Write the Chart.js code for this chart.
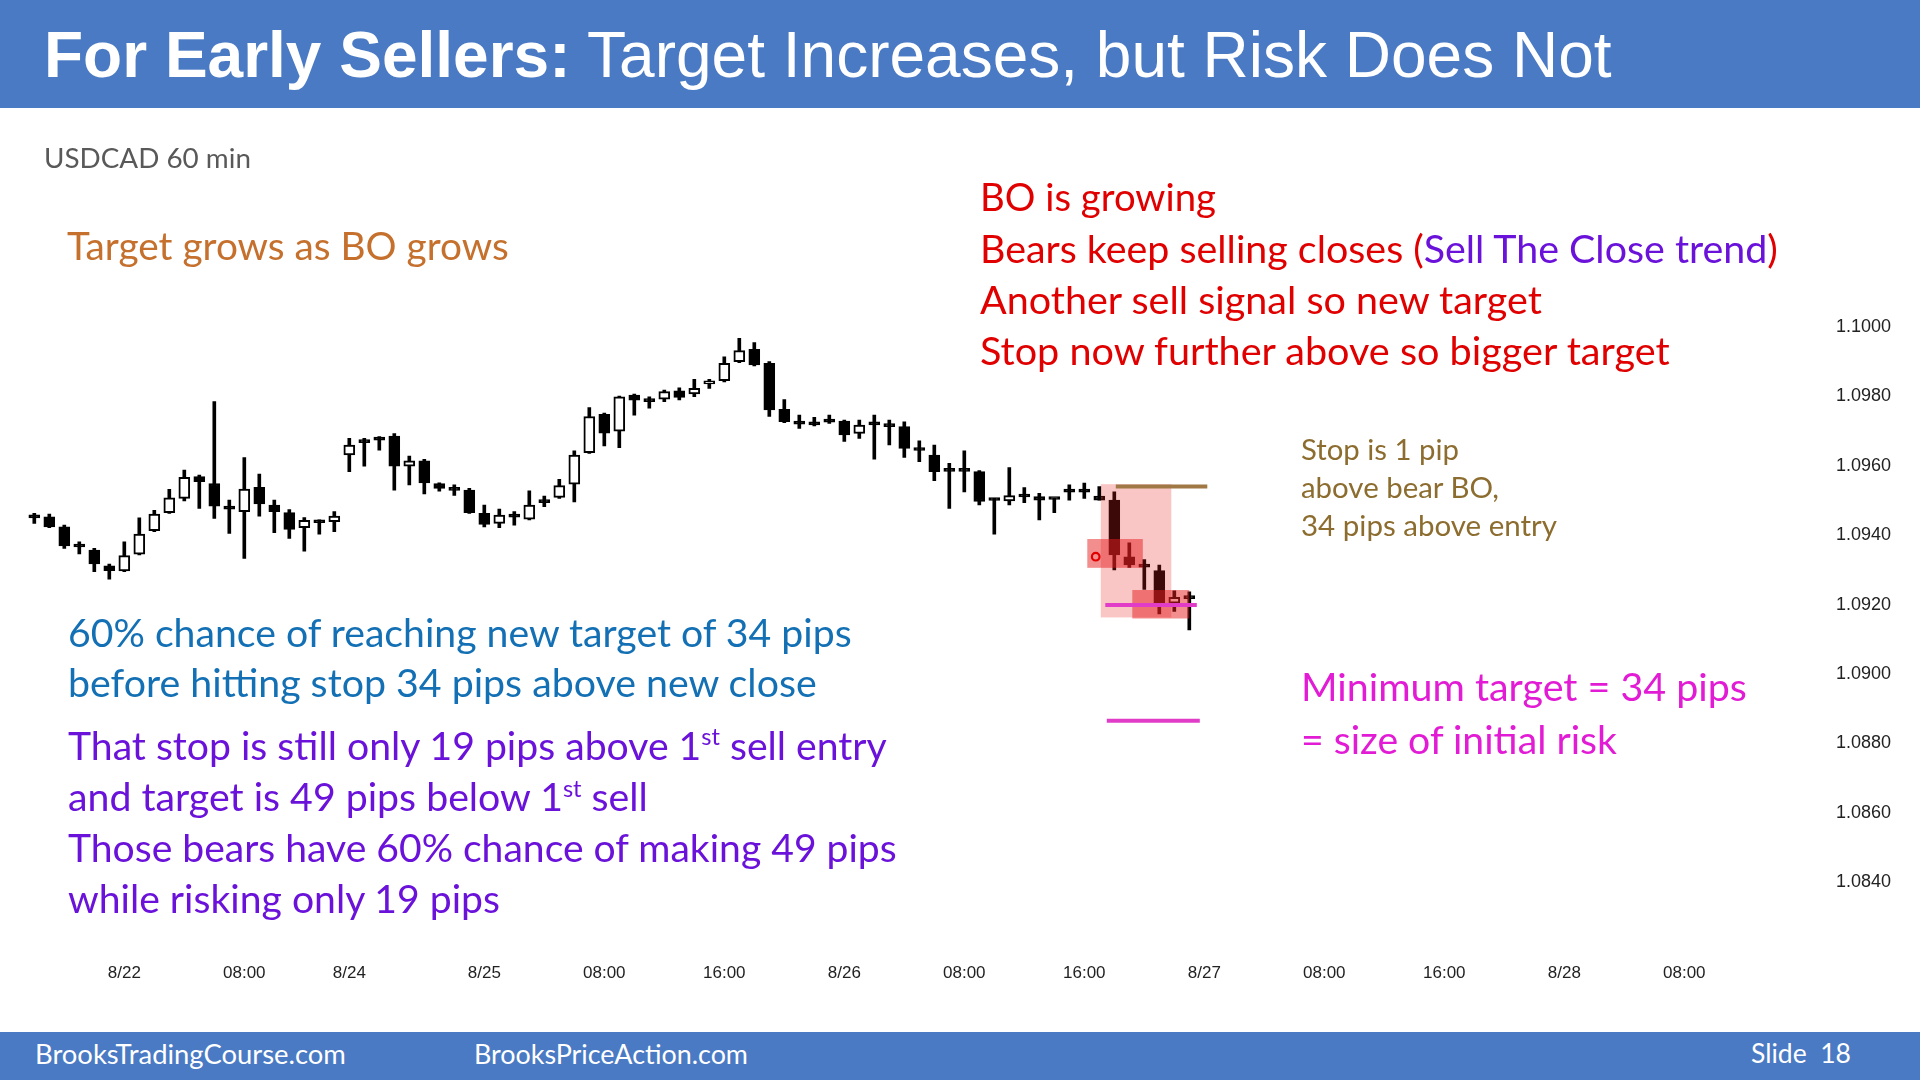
<!DOCTYPE html>
<html>
<head>
<meta charset="utf-8">
<title>For Early Sellers: Target Increases, but Risk Does Not</title>
<script src="https://cdn.jsdelivr.net/npm/chart.js@4.4.1/dist/chart.umd.min.js"></script>
<style>
  html, body { margin: 0; padding: 0; width: 1920px; height: 1080px; overflow: hidden; background: #fff; }
  #title { position: absolute; left: 0; top: 0; width: 1920px; height: 108px; background: #4A7AC4; }
  #title div { position: absolute; left: 44px; top: 1px; line-height: 108px; font-family: "Liberation Sans", Arial, sans-serif; font-size: 64px; color: #fff; white-space: nowrap; }
  #footer { position: absolute; left: 0; top: 1032px; width: 1920px; height: 48px; background: #4A7AC4; }
  #wrap { position: absolute; left: 0; top: 108px; width: 1920px; height: 924px; }
  .t { position: absolute; white-space: nowrap; font-family: Lato, "Open Sans", sans-serif; font-size: 42px; line-height: 1.2; transform: translateY(-50%); }
  .t sup { font-size: 0.6em; vertical-align: 0.62em; line-height: 0; }
</style>
</head>
<body>
<div id="title"><div><b>For Early Sellers:</b> Target Increases, but Risk Does Not</div></div>

<div id="wrap"><canvas id="chart" width="1920" height="924"></canvas></div>

<div class="t" style="left:44px;top:158px;color:#595959;font-size:26px" data-w="207">USDCAD 60 min</div>
<div class="t" style="left:67px;top:245px;color:#C5702D" data-w="442">Target grows as BO grows</div>

<div class="t" style="left:980px;top:197px;color:#E00000" data-w="236">BO is growing</div>
<div class="t" style="left:980px;top:248px;color:#E00000" data-w="798">Bears keep selling closes (<span style="color:#6A12DA">Sell The Close trend</span>)</div>
<div class="t" style="left:980px;top:299px;color:#E00000" data-w="562">Another sell signal so new target</div>
<div class="t" style="left:980px;top:350px;color:#E00000" data-w="690">Stop now further above so bigger target</div>

<div class="t" style="left:1301px;top:449px;color:#8C6D2F;font-size:28px" data-w="158">Stop is 1 pip</div>
<div class="t" style="left:1301px;top:487px;color:#8C6D2F;font-size:28px" data-w="198">above bear BO,</div>
<div class="t" style="left:1301px;top:525px;color:#8C6D2F;font-size:28px" data-w="256">34 pips above entry</div>

<div class="t" style="left:68px;top:632px;color:#1470B4" data-w="784">60% chance of reaching new target of 34 pips</div>
<div class="t" style="left:68px;top:682px;color:#1470B4" data-w="749">before hitting stop 34 pips above new close</div>

<div class="t" style="left:68px;top:744px;color:#6A12DA" data-w="819">That stop is still only 19 pips above 1<sup>st</sup> sell entry</div>
<div class="t" style="left:68px;top:796px;color:#6A12DA" data-w="580">and target is 49 pips below 1<sup>st</sup> sell</div>
<div class="t" style="left:68px;top:847px;color:#6A12DA" data-w="829">Those bears have 60% chance of making 49 pips</div>
<div class="t" style="left:68px;top:898px;color:#6A12DA" data-w="432">while risking only 19 pips</div>

<div class="t" style="left:1301px;top:686px;color:#E21BD5" data-w="446">Minimum target = 34 pips</div>
<div class="t" style="left:1301px;top:738px;color:#E21BD5" data-w="316">= size of initial risk</div>

<div id="footer"></div>
<div class="t" style="left:35px;top:1054px;color:#fff;font-size:26px" data-w="311">BrooksTradingCourse.com</div>
<div class="t" style="left:474px;top:1054px;color:#fff;font-size:26px" data-w="274">BrooksPriceAction.com</div>
<div class="t" style="left:1751px;top:1054px;color:#fff;font-size:26px" data-w="100">Slide&nbsp;&nbsp;18</div>

<script>
// USDCAD 60 min bars, one per hour, index 0 = first bar on the chart
const openPrices = [
  1.09450, 1.09453, 1.09424, 1.09369, 1.09357, 1.09312, 1.09297, 1.09345, 1.09413, 1.09465,
  1.09506, 1.09569, 1.09549, 1.09477, 1.09468, 1.09538, 1.09487, 1.09465, 1.09422, 1.09444,
  1.09439, 1.09631, 1.09672, 1.09678, 1.09686, 1.09599, 1.09614, 1.09549, 1.09531, 1.09530,
  1.09463, 1.09434, 1.09453, 1.09446, 1.09503, 1.09509, 1.09547, 1.09638, 1.09748, 1.09700,
  1.09804, 1.09789, 1.09792, 1.09816, 1.09807, 1.09836, 1.09845, 1.09900, 1.09936, 1.09895,
  1.09763, 1.09724, 1.09720, 1.09729, 1.09729, 1.09693, 1.09720, 1.09715, 1.09713, 1.09646,
  1.09631, 1.09586, 1.09586, 1.09583, 1.09502, 1.09499, 1.09512, 1.09511, 1.09505, 1.09526,
  1.09526, 1.09513, 1.09501, 1.09338, 1.09310, 1.09298, 1.09204, 1.09219
];
const highPrices = [
  1.09463, 1.09461, 1.09429, 1.09381, 1.09362, 1.09317, 1.09381, 1.09450, 1.09472, 1.09532,
  1.09588, 1.09573, 1.09785, 1.09501, 1.09624, 1.09576, 1.09501, 1.09474, 1.09451, 1.09444,
  1.09468, 1.09679, 1.09679, 1.09684, 1.09693, 1.09628, 1.09619, 1.09551, 1.09545, 1.09535,
  1.09487, 1.09475, 1.09468, 1.09528, 1.09513, 1.09561, 1.09643, 1.09768, 1.09752, 1.09801,
  1.09807, 1.09799, 1.09818, 1.09825, 1.09849, 1.09849, 1.09914, 1.09967, 1.09955, 1.09900,
  1.09791, 1.09746, 1.09740, 1.09746, 1.09732, 1.09732, 1.09746, 1.09732, 1.09727, 1.09672,
  1.09660, 1.09607, 1.09643, 1.09586, 1.09506, 1.09595, 1.09537, 1.09521, 1.09506, 1.09545,
  1.09550, 1.09540, 1.09525, 1.09378, 1.09330, 1.09314, 1.09240, 1.09237
];
const lowPrices = [
  1.09434, 1.09422, 1.09362, 1.09346, 1.09295, 1.09273, 1.09295, 1.09343, 1.09410, 1.09463,
  1.09499, 1.09477, 1.09448, 1.09405, 1.09333, 1.09455, 1.09407, 1.09391, 1.09354, 1.09403,
  1.09410, 1.09583, 1.09599, 1.09645, 1.09530, 1.09545, 1.09519, 1.09527, 1.09515, 1.09463,
  1.09424, 1.09422, 1.09429, 1.09444, 1.09482, 1.09506, 1.09496, 1.09636, 1.09657, 1.09652,
  1.09746, 1.09766, 1.09785, 1.09790, 1.09799, 1.09823, 1.09842, 1.09897, 1.09888, 1.09742,
  1.09724, 1.09708, 1.09715, 1.09722, 1.09670, 1.09679, 1.09619, 1.09660, 1.09624, 1.09612,
  1.09557, 1.09477, 1.09525, 1.09487, 1.09403, 1.09487, 1.09494, 1.09444, 1.09465, 1.09501,
  1.09506, 1.09501, 1.09300, 1.09307, 1.09244, 1.09173, 1.09180, 1.09127
];
const closePrices = [
  1.09450, 1.09424, 1.09369, 1.09366, 1.09317, 1.09298, 1.09341, 1.09403, 1.09461, 1.09508,
  1.09567, 1.09554, 1.09484, 1.09475, 1.09533, 1.09490, 1.09468, 1.09417, 1.09443, 1.09436,
  1.09455, 1.09660, 1.09667, 1.09674, 1.09599, 1.09614, 1.09551, 1.09535, 1.09529, 1.09465,
  1.09431, 1.09458, 1.09452, 1.09487, 1.09494, 1.09543, 1.09631, 1.09742, 1.09694, 1.09799,
  1.09789, 1.09785, 1.09814, 1.09797, 1.09823, 1.09840, 1.09895, 1.09932, 1.09891, 1.09761,
  1.09727, 1.09720, 1.09718, 1.09726, 1.09689, 1.09717, 1.09718, 1.09713, 1.09650, 1.09644,
  1.09583, 1.09584, 1.09584, 1.09497, 1.09500, 1.09514, 1.09510, 1.09501, 1.09503, 1.09524,
  1.09524, 1.09501, 1.09343, 1.09314, 1.09308, 1.09199, 1.09221, 1.09217
];

// time axis labels and the bar index they sit on
const timeLabels = ['8/22', '08:00', '8/24', '8/25', '08:00', '16:00', '8/26', '08:00', '16:00', '8/27', '08:00', '16:00', '8/28', '08:00'];
const timeLabelIdx = [6, 14, 21, 30, 38, 46, 54, 62, 70, 78, 86, 94, 102, 110];
const priceTicks = [1.1000, 1.0980, 1.0960, 1.0940, 1.0920, 1.0900, 1.0880, 1.0860, 1.0840];

// drawn annotations, in bar index / price units
const riskZone = [71.1, 75.8, 1.09163, 1.09547];
const signalBoxes = [[70.2, 73.9, 1.09306, 1.09389], [73.2, 77.0, 1.09160, 1.09242]];
const entryMark = [70.76, 1.09338];
const stopLine = [72.1, 78.2, 1.09540];
const targetLines = [[71.4, 77.5, 1.09199], [71.5, 77.7, 1.08865]];

const idx = openPrices.map((_, i) => i);
const wickData = idx.map(i => ({ x: i, y: [lowPrices[i], highPrices[i]] }));
const bodyData = idx.map(i => ({ x: i, y: [openPrices[i], closePrices[i]] }));
const bodyFill = idx.map(i => (closePrices[i] > openPrices[i] ? '#ffffff' : '#000000'));

// pin the axes to the slide: bar 0 at x 34, 15px per bar; 1.1000 at y 219 in the canvas, 347px per 10 pips
const pinScales = {
  id: 'pinScales',
  afterLayout(chart) {
    const { x, y } = chart.scales;
    x.min = (x.left - 34.3) / 15;
    x.max = (x.right - 34.3) / 15;
    x.configure();
    y.max = 1.1 + (219 - y.top) / 34700;
    y.min = 1.1 - (y.bottom - 219) / 34700;
    y.configure();
  }
};

const overlay = {
  id: 'overlay',
  afterDatasetsDraw(chart) {
    const { ctx, scales: { x, y } } = chart;
    const box = (b, color) => {
      const x0 = x.getPixelForValue(b[0]), x1 = x.getPixelForValue(b[1]);
      const y0 = y.getPixelForValue(b[3]), y1 = y.getPixelForValue(b[2]);
      ctx.fillStyle = color;
      ctx.fillRect(x0, y0, x1 - x0, y1 - y0);
    };
    const hline = (l, color) => {
      ctx.strokeStyle = color;
      ctx.lineWidth = 4;
      ctx.beginPath();
      ctx.moveTo(x.getPixelForValue(l[0]), y.getPixelForValue(l[2]));
      ctx.lineTo(x.getPixelForValue(l[1]), y.getPixelForValue(l[2]));
      ctx.stroke();
    };
    ctx.save();
    box(riskZone, 'rgba(232, 30, 30, 0.26)');
    signalBoxes.forEach(b => box(b, 'rgba(232, 30, 30, 0.5)'));
    ctx.strokeStyle = '#E00000';
    ctx.lineWidth = 2.2;
    ctx.beginPath();
    ctx.arc(x.getPixelForValue(entryMark[0]), y.getPixelForValue(entryMark[1]), 3.8, 0, Math.PI * 2);
    ctx.stroke();
    hline(stopLine, '#A07846');
    targetLines.forEach(l => hline(l, '#E03CC8'));
    ctx.restore();
  }
};

new Chart(document.getElementById('chart'), {
  type: 'bar',
  data: {
    datasets: [
      {
        data: bodyData,
        backgroundColor: bodyFill,
        borderColor: '#000000',
        borderWidth: 2,
        borderSkipped: false,
        barThickness: 11,
        minBarLength: 3,
        grouped: false,
        order: 1
      },
      {
        data: wickData,
        backgroundColor: '#000000',
        borderWidth: 0,
        barThickness: 3,
        grouped: false,
        order: 2
      }
    ]
  },
  options: {
    responsive: false,
    animation: false,
    devicePixelRatio: 1,
    layout: { padding: { left: 4, top: 10, right: 0, bottom: 0 } },
    plugins: { legend: { display: false }, tooltip: { enabled: false } },
    scales: {
      x: {
        type: 'linear',
        offset: false,
        min: -2,
        max: 118,
        grid: { display: false, drawTicks: false },
        border: { display: false },
        afterBuildTicks: s => { s.ticks = timeLabelIdx.map(v => ({ value: v })); },
        afterFit: s => { s.height = 84; },
        ticks: {
          autoSkip: false,
          maxRotation: 0,
          padding: 15,
          color: '#222',
          font: { family: '"Liberation Sans", Arial, sans-serif', size: 17 },
          callback: (v, i) => timeLabels[i]
        }
      },
      y: {
        position: 'right',
        min: 1.0821,
        max: 1.1060,
        grid: { display: false, drawTicks: false },
        border: { display: false },
        afterBuildTicks: s => { s.ticks = priceTicks.map(v => ({ value: v })); },
        afterFit: s => { s.width = 120; },
        ticks: {
          padding: 36,
          color: '#222',
          font: { family: '"Liberation Sans", Arial, sans-serif', size: 18 },
          callback: v => v.toFixed(4)
        }
      }
    }
  },
  plugins: [pinScales, overlay]
});

function fitText() {
  document.querySelectorAll('.t[data-w]').forEach(el => {
    const want = +el.dataset.w;
    const have = el.getBoundingClientRect().width;
    const fs = parseFloat(getComputedStyle(el).fontSize);
    if (have > 0) el.style.fontSize = (fs * want / have).toFixed(2) + 'px';
  });
}
fitText();
</script>
</body>
</html>
